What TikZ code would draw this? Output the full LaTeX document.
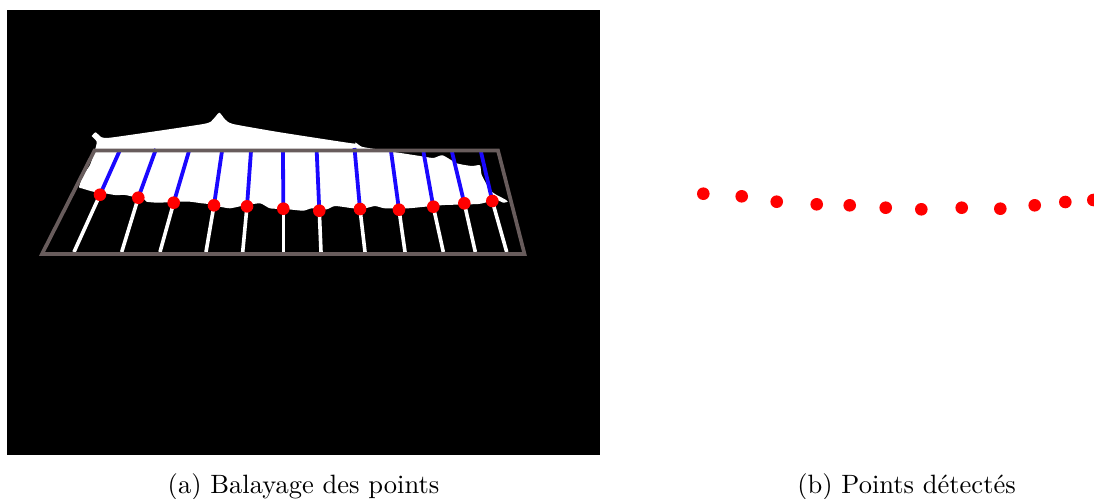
\documentclass[tikz,border=0pt]{standalone}
\definecolor{frameg}{RGB}{104,92,92}
\definecolor{scanblue}{RGB}{26,8,255}
\begin{document}
\begin{tikzpicture}[x=1pt,y=-1pt,
  dot/.style={circle,fill=red,draw=none,inner sep=0pt,minimum size=12.6pt},
  scanb/.style={draw=scanblue,line width=3.8pt},
  scanw/.style={draw=white,line width=3.6pt},
  framel/.style={draw=frameg,line width=3.7pt,line join=miter},
  captext/.style={inner sep=0pt,font=\fontsize{10}{12}\selectfont,scale=2.65,transform shape}]
\useasboundingbox (0,0) rectangle (1094,498);
\fill[white] (0,0) rectangle (1094,498);
\fill[black] (7,10) rectangle (600,455);
% white blob
\fill[white,line join=round] plot[smooth,tension=0.35] coordinates {
 (91.7,136) (95.7,132.3) (101.7,137.3) (113.3,137.3) (203.3,124) (213,119.3) (219.3,112.7) (225,119.3) (233,124)
 (280,132.3) (351.7,143.3) (355.3,142.3) (361.7,146.7) (376.7,149.3) (420,156) (433.3,158) (442.7,155.3)
 (456.7,163.3) (471.7,166) (480,165.3) (481.7,175) (490,190) (496.7,195) (505,199.3) (507.7,201.7) (503.3,202.7) (496.7,200)
 (488.3,201.7) (478.3,204) (445,205) (425,206.7) (408.3,208.3) (385,208.3) (375,206) (365,208.3) (353.3,208.3) (335,206)
 (326.7,209.3) (311.7,208.3) (303.3,210.7) (288.3,209.3) (270,208.3) (260,203.3) (241.7,206) (230,208.3) (220,206.7)
 (208.3,204) (201.7,203.3) (190,201.7) (178.3,201.7) (158.3,202.7) (146.7,201.7) (143.3,198.3) (133.3,196.7) (125,195) (115,195) (105,193.3) (93.3,191.7) (81.7,188.3) (79,187)
 (83.3,175) (90,165) (95,150) (96.7,141.7) (91.7,136)};
% scan points
\foreach \n/\px/\py in {1/100/194.7,2/138.3/197.7,3/173.7/202.7,4/214/205.3,5/247/206.3,6/283.3/208.7,
  7/319.3/210.7,8/360/209,9/399/209.7,10/433.3/206.7,11/464.3/203.3,12/492.3/201}
  \coordinate (a\n) at (\px,\py);
\foreach \n/\tx/\ty/\bx in {1/120/150/74,2/156/149/121.7,3/189/151/160,4/222/151/206,5/251/151/242.7,6/283/151/283.3,
  7/316.7/151/321,8/354.5/148/365,9/391/151/405,10/423.5/152/443.3,11/452/152/475.3,12/481/152/506.7}{
  \coordinate (t\n) at (\tx,\ty);
  \coordinate (b\n) at (\bx,252);
  \draw[scanb] (t\n) -- (a\n);
  \draw[scanw] (a\n) -- (b\n);
}
\coordinate (q1) at (94.5,150.5);
\coordinate (q2) at (498,150.5);
\coordinate (q3) at (524.5,254);
\coordinate (q4) at (42,254);
\draw[framel] (q1) -- (q2) -- (q3) -- (q4) -- cycle;
\foreach \n in {1,...,12}
  \node[dot] (p\n) at (a\n) {};
% detected points
\foreach \n/\px/\py in {1/703.3/193.7,2/741.7/196.3,3/776.7/201.7,4/816.7/204.3,5/849.7/205.3,6/885.7/207.7,
  7/921.3/209.3,8/961.7/207.7,9/1000.3/208.7,10/1034.7/205.3,11/1065.3/202,12/1093.3/200}
  \node[dot] (d\n) at (\px,\py) {};
\node[captext,anchor=base] (capa) at (303.5,493) {(a) Balayage des points};
\node[captext,anchor=base] (capb) at (906.5,493) {(b) Points détectés};
\end{tikzpicture}
\end{document}
